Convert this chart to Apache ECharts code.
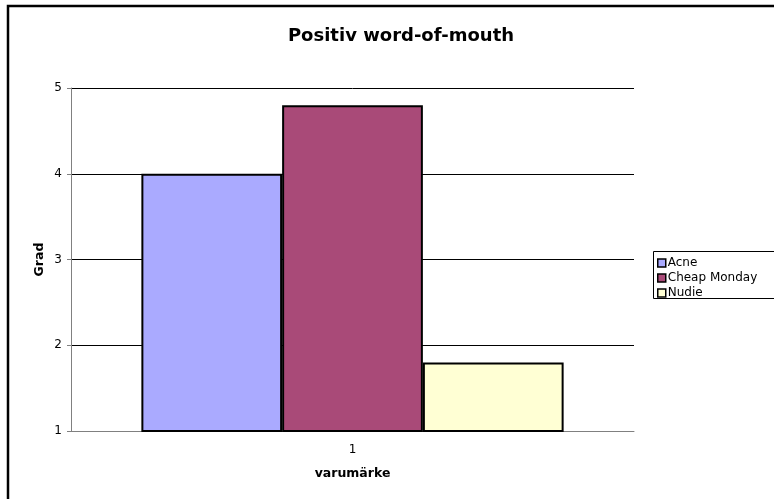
<!DOCTYPE html>
<html>
<head>
<meta charset="utf-8">
<script src="https://cdn.jsdelivr.net/npm/echarts@6/dist/echarts.min.js"></script>
<style>
  html, body { margin: 0; padding: 0; background: #fff; }
  #chart { width: 774px; height: 499px; }
</style>
</head>
<body>
<div id="chart"></div>
<script>
// data
var categories = ['1'];
var seriesNames = ['Acne', 'Cheap Monday', 'Nudie'];
var acne = [4.0];
var cheapMonday = [4.8];
var nudie = [1.8];
var yTicks = [1, 2, 3, 4, 5];

var colors = ['#aaaaff', '#a94a78', '#ffffd4'];
var font = '"DejaVu Sans", Verdana, sans-serif';

var chart = echarts.init(document.getElementById('chart'), null, { renderer: 'canvas' });

function barSeries(name, data, idx) {
    return {
        name: name,
        type: 'bar',
        data: data,
        barGap: '0%',
        barCategoryGap: '25%',
        itemStyle: {
            color: colors[idx],
            borderColor: '#000',
            borderWidth: 2
        },
        emphasis: { disabled: true }
    };
}

var option = {
    animation: false,
    color: colors,
    textStyle: { fontFamily: font },
    title: {
        text: 'Positiv word-of-mouth',
        left: 396,
        textAlign: 'center',
        top: 22,
        textStyle: { fontSize: 18, fontWeight: 'bold', color: '#000', fontFamily: font }
    },
    legend: {
        orient: 'vertical',
        left: 657,
        top: 257,
        padding: 0,
        itemWidth: 8,
        itemHeight: 8,
        itemGap: 3,
        icon: 'rect',
        data: seriesNames,
        itemStyle: { borderColor: '#000', borderWidth: 1.5 },
        textStyle: { fontSize: 12, lineHeight: 12, color: '#000', padding: [0, 0, 0, -3], fontFamily: font }
    },
    grid: {
        left: 71,
        right: 140,
        top: 88,
        bottom: 68
    },
    xAxis: {
        type: 'category',
        data: categories,
        name: 'varumärke',
        nameLocation: 'middle',
        nameGap: 36,
        nameMoveOverlap: false,
        nameTextStyle: { fontSize: 12.5, fontWeight: 'bold', color: '#000', fontFamily: font },
        axisLine: { lineStyle: { color: '#808080', width: 1 } },
        axisTick: { show: false },
        axisLabel: { fontSize: 12, color: '#000', margin: 13 }
    },
    yAxis: {
        type: 'value',
        min: yTicks[0],
        max: yTicks[yTicks.length - 1],
        interval: 1,
        name: 'Grad',
        nameLocation: 'middle',
        nameGap: 25,
        nameMoveOverlap: false,
        nameTextStyle: { fontSize: 12.5, fontWeight: 'bold', color: '#000', fontFamily: font },
        axisLine: { show: true, lineStyle: { color: '#808080', width: 1 } },
        axisTick: { show: true, length: 4, lineStyle: { color: '#808080' } },
        axisLabel: { fontSize: 12, color: '#000', margin: 9 },
        splitLine: { lineStyle: { color: '#000', width: 1 } }
    },
    graphic: [
        {
            // outer chart border, runs off the right and bottom edge
            type: 'rect',
            shape: { x: 8, y: 6, width: 800, height: 520 },
            style: { fill: null, stroke: '#000', lineWidth: 2.5 },
            silent: true
        },
        {
            // legend frame
            type: 'rect',
            shape: { x: 653.5, y: 251.5, width: 130, height: 47 },
            style: { fill: null, stroke: '#000', lineWidth: 1 },
            silent: true
        }
    ],
    series: [
        barSeries(seriesNames[0], acne, 0),
        barSeries(seriesNames[1], cheapMonday, 1),
        barSeries(seriesNames[2], nudie, 2)
    ]
};

chart.setOption(option);
</script>
</body>
</html>
